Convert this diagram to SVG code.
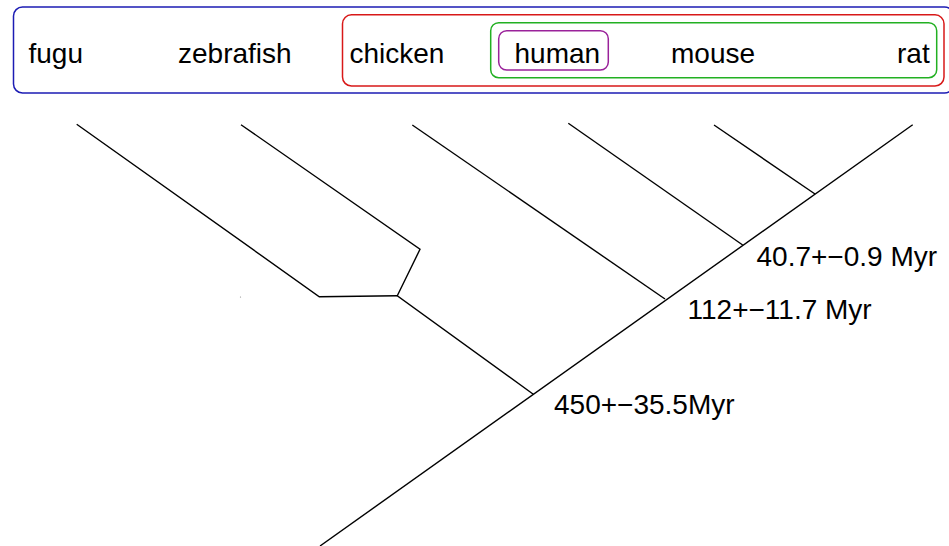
<svg xmlns="http://www.w3.org/2000/svg" width="949" height="546" viewBox="0 0 949 546">
<style>
.lbl{font-family:"Liberation Sans",Arial,sans-serif;font-size:28px;fill:#000}
.box{fill:none;stroke-width:1.5}
.br{fill:none;stroke:#000;stroke-width:1.4;stroke-linejoin:miter}
</style>
<rect width="949" height="546" fill="#fff"/>
<g id="groups">
<rect id="vertebrates" class="box" x="13.5" y="7" width="940" height="86" rx="9" stroke="#1c1cb4"/>
<rect id="amniotes" class="box" x="342.5" y="14.8" width="601.5" height="71.2" rx="9" stroke="#d81818"/>
<rect id="mammals" class="box" x="490.7" y="22.7" width="446" height="55" rx="8" stroke="#22b022"/>
<rect id="primate" class="box" x="498.7" y="30.7" width="109.6" height="39.3" rx="8" stroke="#9a229a"/>
</g>
<g id="node-fugu"><text class="lbl" x="28.5" y="62.7">fugu</text></g>
<g id="node-zebrafish"><text class="lbl" x="178" y="62.7">zebrafish</text></g>
<g id="node-chicken"><text class="lbl" x="349.5" y="62.7">chicken</text></g>
<g id="node-human"><text class="lbl" x="514.5" y="62.7">human</text></g>
<g id="node-mouse"><text class="lbl" x="671" y="62.7">mouse</text></g>
<g id="node-rat"><text class="lbl" x="897" y="62.7">rat</text></g>
<g id="connectors">
<path class="br" d="M320 546 L912.7 124.7"/>
<path class="br" d="M815 194 L714 125"/>
<path class="br" d="M742.7 245 L568.3 123.3"/>
<path class="br" d="M665 299 L412.3 125"/>
<path class="br" d="M533.3 394.3 L397.3 295.7 L420 249.3 L241 124.7"/>
<path class="br" d="M397.3 295.7 L319.3 296.7 L76.7 124.3"/>
</g>
<circle cx="240.5" cy="297" r="0.6" fill="#888"/>
<g id="node-labels">
<text class="lbl" x="756.5" y="266">40.7+−0.9 Myr</text>
<text class="lbl" x="687.5" y="319.3">112+−11.7 Myr</text>
<text class="lbl" x="554" y="414">450+−35.5Myr</text>
</g>
</svg>
